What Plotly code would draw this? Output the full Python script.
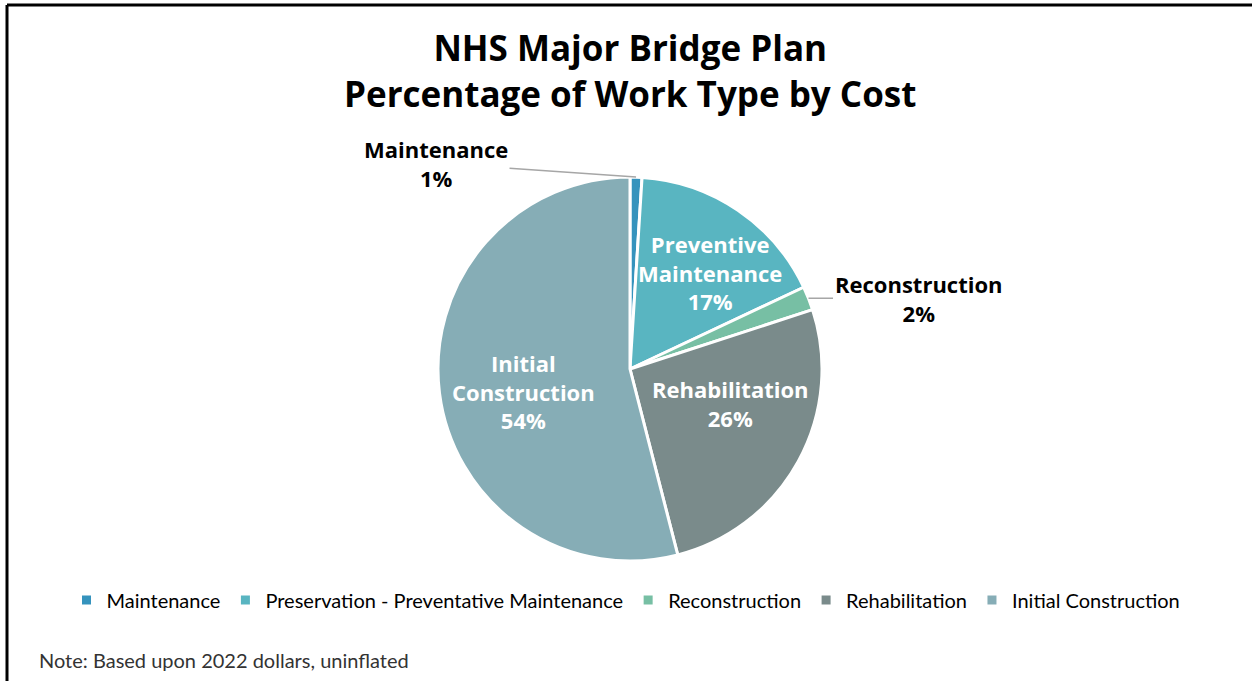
import math
import plotly.graph_objects as go

# Work types by share of total cost (percent)
work_types = ["Maintenance", "Preservation - Preventative Maintenance",
              "Reconstruction", "Rehabilitation", "Initial Construction"]
slice_labels = ["Maintenance", "Preventive<br>Maintenance", "Reconstruction",
                "Rehabilitation", "Initial<br>Construction"]
shares = [1, 17, 2, 26, 54]
colors = ["#3593BD", "#59B5C1", "#77BFA4", "#7A8B8B", "#86ADB6"]
inside = [False, True, False, True, True]

W, H = 1252, 681
BOLD_FONT = "Open Sans"
TEXT_FONT = "Lato"

# pie placement (pixels)
cx, cy, R = 630, 369, 192

fig = go.Figure(go.Pie(
    labels=work_types,
    values=shares,
    sort=False,
    direction="clockwise",
    rotation=0,
    textinfo="none",
    marker=dict(colors=colors, line=dict(color="white", width=3)),
    domain=dict(x=[(cx - R) / W, (cx + R) / W], y=[1 - (cy + R) / H, 1 - (cy - R) / H]),
    hoverinfo="label+percent",
))

# data labels: white text on the large slices, black text with a leader
# line for the thin ones (label offsets in pixels from the pie centre)
label_pos = {1: (80, -97), 3: (101, 35), 4: (-107, 22)}
leader_offsets = {0: (-200, -14), 2: (110, 0)}
total = sum(shares)
cum = 0
for i, v in enumerate(shares):
    mid = (cum + v / 2) / total
    cum += v
    text = f"{slice_labels[i]}<br>{v}%"
    if inside[i]:
        dx, dy = label_pos[i]
        fig.add_annotation(
            x=(cx + dx) / W, y=1 - (cy + dy) / H, xref="paper", yref="paper",
            text=text, showarrow=False, xanchor="center", yanchor="middle",
            font=dict(family=BOLD_FONT, size=22, color="white", weight="bold"),
        )
        continue
    th = 2 * math.pi * mid
    px = cx + R * math.sin(th)
    py = cy - R * math.cos(th)
    ax, ay = leader_offsets[i]
    fig.add_annotation(
        x=px / W, y=1 - py / H, xref="paper", yref="paper",
        text=text,
        showarrow=True, arrowhead=0, arrowwidth=1.5, arrowcolor="#A6A6A6",
        ax=ax, ay=ay, standoff=0,
        font=dict(family=BOLD_FONT, size=22, color="black", weight="bold"),
    )

# chart title
fig.add_annotation(
    x=630 / W, y=1 - 70 / H, xref="paper", yref="paper",
    text="NHS Major Bridge Plan<br>Percentage of Work Type by Cost",
    showarrow=False, xanchor="center", yanchor="middle",
    font=dict(family=BOLD_FONT, size=35, color="black", weight="bold"),
)

# footnote
fig.add_annotation(
    x=37 / W, y=1 - 660 / H, xref="paper", yref="paper",
    text="Note: Based upon 2022 dollars, uninflated",
    showarrow=False, xanchor="left", yanchor="middle",
    font=dict(family=TEXT_FONT, size=20, color="#333333"),
)

# frame lines along the top and left edges
fig.add_shape(type="line", xref="paper", yref="paper",
              x0=7 / W, y0=1 - 5 / H, x1=1, y1=1 - 5 / H,
              line=dict(color="black", width=3))
fig.add_shape(type="line", xref="paper", yref="paper",
              x0=7 / W, y0=1 - 5 / H, x1=7 / W, y1=0,
              line=dict(color="black", width=3))

fig.update_layout(
    width=W, height=H,
    margin=dict(l=0, r=0, t=0, b=0),
    paper_bgcolor="white",
    plot_bgcolor="white",
    showlegend=True,
    legend=dict(
        orientation="h", x=0.5, xanchor="center", y=1 - 600 / H, yanchor="middle",
        font=dict(family=TEXT_FONT, size=20, color="black"),
        itemwidth=30, tracegroupgap=0,
    ),
)

fig.write_html("out.html")
